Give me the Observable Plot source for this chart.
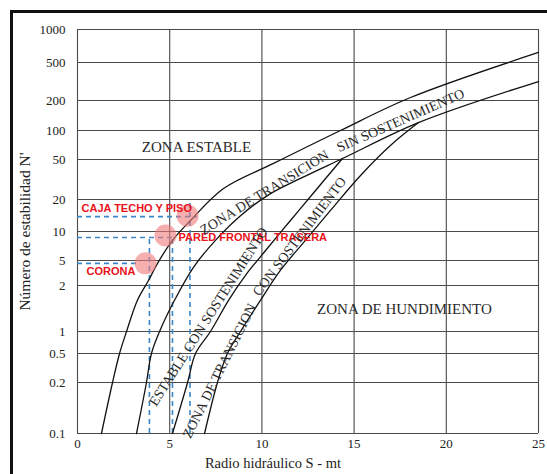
<!DOCTYPE html>
<html>
<head>
<meta charset="utf-8">
<script src="https://cdn.jsdelivr.net/npm/d3@7"></script>
<script src="https://cdn.jsdelivr.net/npm/@observablehq/plot@0.6"></script>
<style>
  body { margin: 0; background: #fff; }
  #wrap { position: relative; width: 547px; height: 474px; overflow: hidden; background: #fff; }
  #frame { position: absolute; left: 10px; top: 10px; width: 700px; height: 700px;
           border-left: 3px solid #111; border-top: 3px solid #111; pointer-events: none; }
</style>
</head>
<body>
<div id="wrap"><div id="frame"></div></div>
<script>
// ---- data ----
const xTicks = [0, 5, 10, 15, 20, 25];
const yTicks = [0.1, 0.2, 0.5, 1, 2, 5, 10, 20, 50, 100, 200, 500, 1000];

// boundary curves [S, N']
const curvaEstable = [[1.30,0.1],[1.90,0.2],[2.28,0.5],[2.66,1.0],[3.25,1.6],[3.85,2.4],[4.34,4.5],[5.15,8.1],[6.13,12.7],[7.92,25.7],[10.63,45.7],[14.26,100],[18.06,215],[25,617]];
const curvaTransicion = [[3.20,0.1],[3.74,0.2],[4.01,0.5],[4.45,1.0],[5.26,1.6],[6.29,3.9],[7.48,8.1],[8.84,14.1],[10.47,22.9],[12.09,32.4],[14.37,51.2],[18.49,120],[25,316]];
const curvaSostenimiento = [[5.15,0.1],[5.97,0.2],[6.40,0.5],[7.21,1.0],[8.19,1.6],[9.11,2.9],[10.20,6.35],[11.55,12.7],[12.91,24.6],[14.37,51.2]];
const curvaHundimiento = [[6.89,0.1],[7.59,0.2],[8.13,0.5],[8.84,1.0],[9.92,1.6],[11.01,3.5],[12.36,8.1],[13.72,15.8],[15.35,34.7],[16.97,69.9],[18.49,120]];

// evaluated stopes
const puntosNombre = ["CORONA", "PARED FRONTAL TRASERA", "CAJA TECHO Y PISO"];
const puntosS = [3.69, 4.77, 5.97];
const puntosN = [4.5, 9.1, 14.1];

// dashed reading lines
const guiaH_N = [4.5, 8.66, 13.8];
const guiaH_Sfin = [3.4, 5.15, 6.5];
const guiaV_S = [3.9, 5.15, 6.1];
const guiaV_Ntop = [8.66, 8.66, 18.7];

// zone labels
const zonaTexto = ["ZONA ESTABLE", "ZONA DE HUNDIMIENTO", "ZONA DE TRANSICION", "SIN SOSTENIMIENTO",
                   "ESTABLE CON SOSTENIMIENTO", "CON SOSTENIMIENTO", "ZONA DE TRANSICION"];
const zonaS = [6.45, 17.73, 10.14, 17.52, 7.10, 12.04, 7.70];
const zonaN = [66.6, 1.41, 23.5, 126, 1.25, 8.87, 0.29];
const zonaAngulo = [0, 0, -31.6, -23.7, -57.5, -52.8, -63.6];

// red point labels
const etiquetaS = [0.49, 5.48, 0.22];
const etiquetaN = [3.34, 8.66, 16.5];

// ---- build tables ----
const curves = [curvaEstable, curvaTransicion, curvaSostenimiento, curvaHundimiento]
  .flatMap((c, i) => c.map(([s, n]) => ({curve: i, s, n})));
const puntos = puntosNombre.map((name, i) => ({name, s: puntosS[i], n: puntosN[i], ls: etiquetaS[i], ln: etiquetaN[i]}));
const guiasH = guiaH_N.map((n, i) => ({n, s2: guiaH_Sfin[i]}));
const guiasV = guiaV_S.map((s, i) => ({s, n2: guiaV_Ntop[i]}));
const zonas = zonaTexto.map((t, i) => ({t, s: zonaS[i], n: zonaN[i], a: zonaAngulo[i], f: zonaAngulo[i] === 0 ? 15 : 14}));

// layout of the original (non-uniform) logarithmic axis
const yRangePx = [433, 382, 353, 331, 285, 260, 231, 199, 159, 130, 100, 62, 29];

const serif = "'Liberation Serif', 'Times New Roman', serif";
const blue = "#3a86c8";

const chart = Plot.plot({
  width: 547,
  height: 474,
  marginLeft: 77,
  marginRight: 9,
  marginTop: 29,
  marginBottom: 41,
  style: {fontFamily: serif, fontSize: "13px", color: "#222", background: "transparent"},
  x: {domain: [0, 25], ticks: xTicks, tickSize: 0, tickPadding: 5, label: null},
  y: {type: "log", domain: yTicks, range: yRangePx, axis: null},
  marks: [
    Plot.ruleX(xTicks, {stroke: "#4a4a4a", strokeWidth: 1.1}),
    Plot.ruleY(yTicks, {stroke: "#4a4a4a", strokeWidth: 1.1}),
    Plot.text(yTicks, {x: 0, y: d => d, text: d => String(d), textAnchor: "end", dx: -12,
      fontSize: 13, fill: "#222", fontFamily: serif}),
    Plot.ruleY(guiasH, {y: "n", x1: 0, x2: "s2", stroke: blue, strokeWidth: 1.6, strokeDasharray: "5,4"}),
    Plot.ruleX(guiasV, {x: "s", y1: 0.1, y2: "n2", stroke: blue, strokeWidth: 1.6, strokeDasharray: "5,4"}),
    Plot.line(curves, {x: "s", y: "n", z: "curve", stroke: "#111", strokeWidth: 1.3, curve: "catmull-rom"}),
    Plot.dot(puntos, {x: "s", y: "n", r: 11, fill: "#f07a7a", fillOpacity: 0.6, stroke: "none"}),
    Plot.text(puntos, {x: "ls", y: "ln", text: "name", textAnchor: "start", fill: "#e8131b",
      fontWeight: "bold", fontSize: 11, fontFamily: "'Liberation Sans Narrow', 'Liberation Sans', Arial, sans-serif"}),
    Plot.text(zonas, {x: "s", y: "n", text: "t", rotate: "a", fontSize: "f", fill: "#2a2a2a", fontFamily: serif}),
    Plot.text(["Radio hidráulico S - mt"], {x: 10.6, frameAnchor: "bottom", lineAnchor: "middle", dy: 30,
      fontSize: 14.5, fill: "#222", fontFamily: serif}),
    Plot.text(["Número de estabilidad N'"], {frameAnchor: "left", textAnchor: "middle", lineAnchor: "middle",
      rotate: -90, dx: -52, fontSize: 15.5, fill: "#222", fontFamily: serif})
  ]
});
document.getElementById("wrap").prepend(chart);
</script>
</body>
</html>
